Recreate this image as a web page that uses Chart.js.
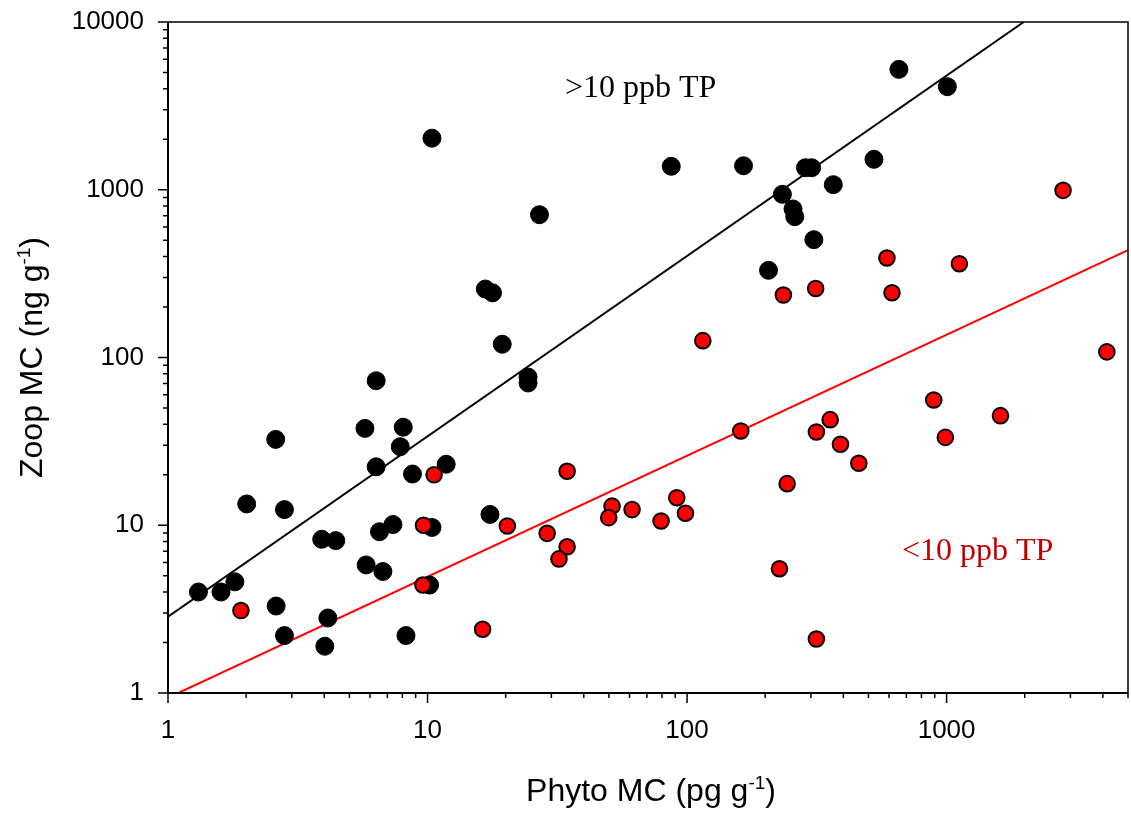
<!DOCTYPE html>
<html>
<head>
<meta charset="utf-8">
<script src="https://cdn.jsdelivr.net/npm/chart.js@4.4.1/dist/chart.umd.min.js"></script>
<style>
  html, body { margin: 0; padding: 0; background: #fff; }
  #wrap { width: 1131px; height: 815px; }
</style>
</head>
<body>
<div id="wrap"><canvas id="myChart"></canvas></div>
<script>
// >10 ppb TP (black dots)
const highPhyto = [1.31, 1.6, 1.81, 2.01, 2.6, 2.81, 2.61, 2.81, 4.02, 4.13, 3.91, 4.43,
  5.74, 6.34, 6.34, 5.8, 6.53, 6.73, 7.36, 8.06, 7.85, 8.75, 8.26, 10.18, 10.4, 10.4,
  11.8, 17.4, 16.7, 17.8, 19.4, 24.4, 24.4, 27.0, 86.9, 165, 206, 233, 256, 260, 286,
  302, 308, 366, 525, 655, 1007];
const highZoop = [4.0, 4.0, 4.6, 13.4, 32.5, 12.4, 3.3, 2.2, 1.9, 2.8, 8.25, 8.1,
  37.8, 72.7, 22.3, 5.8, 9.15, 5.3, 10.1, 38.4, 29.4, 20.2, 2.2, 4.4, 9.7, 2030,
  23.1, 11.6, 256, 243, 120, 76.5, 70.5, 710, 1380, 1390, 331, 939, 768, 691, 1353,
  1353, 504, 1072, 1519, 5220, 4115];

// <10 ppb TP (red dots)
const lowPhyto = [1.91, 9.65, 9.6, 10.6, 16.3, 20.3, 28.9, 34.5, 34.5, 32.1, 51.4, 49.9,
  61.4, 79.4, 91.3, 98.6, 115, 161, 227, 235, 243, 313, 315, 315, 356, 390, 459, 589,
  616, 892, 989, 1120, 1613, 2810, 4144];
const lowZoop = [3.1, 10.0, 4.4, 20.0, 2.4, 9.9, 8.95, 21.0, 7.45, 6.3, 13.0, 11.1,
  12.4, 10.6, 14.6, 11.8, 126, 36.5, 5.5, 236, 17.7, 258, 36, 2.1, 42.6, 30.4, 23.4, 392,
  243, 55.8, 33.4, 362, 45, 992, 108];

// fitted lines, end points
const highFitX = [1, 1983];
const highFitY = [2.85, 10000];
const lowFitX = [1.096, 5000];
const lowFitY = [1, 437];

// tick positions and labelled ticks
const xTickValues = [1, 2, 3, 4, 5, 6, 7, 8, 9, 10, 20, 30, 40, 50, 60, 70, 80, 90,
  100, 200, 300, 400, 500, 600, 700, 800, 900, 1000, 2000, 3000, 4000, 5000];
const yTickValues = [1, 2, 3, 4, 5, 6, 7, 8, 9, 10, 20, 30, 40, 50, 60, 70, 80, 90,
  100, 200, 300, 400, 500, 600, 700, 800, 900, 1000, 2000, 3000, 4000, 5000, 6000,
  7000, 8000, 9000, 10000];
const xLabelValues = [1, 10, 100, 1000];
const yLabelValues = [1, 10, 100, 1000, 10000];

const SANS = "'Liberation Sans', Arial, sans-serif";
const SERIF = "'Liberation Serif', 'Times New Roman', serif";

function toPoints(xs, ys) {
  return xs.map((x, i) => ({ x: x, y: ys[i] }));
}

function drawTitle(ctx, cx, baseY, main, sup, tail) {
  const big = "32px " + SANS;
  const small = "19px " + SANS;
  ctx.font = big;
  const w1 = ctx.measureText(main).width;
  const w3 = ctx.measureText(tail).width;
  ctx.font = small;
  const w2 = ctx.measureText(sup).width;
  let x = cx - (w1 + w2 + w3) / 2;
  ctx.textAlign = "left";
  ctx.textBaseline = "alphabetic";
  ctx.font = big;
  ctx.fillText(main, x, baseY);
  x += w1;
  ctx.font = small;
  ctx.fillText(sup, x, baseY - 12);
  x += w2;
  ctx.font = big;
  ctx.fillText(tail, x, baseY);
}

// frame, tick marks, axis titles and the two notes
const decorations = {
  id: "decorations",
  afterDraw(chart) {
    const ctx = chart.ctx;
    const a = chart.chartArea;
    const xs = chart.scales.x;
    const ys = chart.scales.y;
    ctx.save();
    ctx.strokeStyle = "#000";
    ctx.fillStyle = "#000";

    ctx.lineWidth = 1.5;
    ctx.strokeRect(a.left, a.top, a.right - a.left, a.bottom - a.top);
    ctx.lineWidth = 2;
    ctx.beginPath();
    ctx.moveTo(a.left, a.top);
    ctx.lineTo(a.left, a.bottom);
    ctx.lineTo(a.right, a.bottom);
    ctx.stroke();

    ctx.lineWidth = 1.5;
    ctx.beginPath();
    xs.ticks.forEach((t) => {
      const px = xs.getPixelForValue(t.value);
      const len = xLabelValues.includes(t.value) ? 10 : 5;
      ctx.moveTo(px, a.bottom);
      ctx.lineTo(px, a.bottom + len);
    });
    ys.ticks.forEach((t) => {
      const py = ys.getPixelForValue(t.value);
      const len = yLabelValues.includes(t.value) ? 10 : 5;
      ctx.moveTo(a.left, py);
      ctx.lineTo(a.left - len, py);
    });
    ctx.stroke();

    drawTitle(ctx, (a.left + a.right) / 2 + 3, 801, "Phyto MC (pg g", "-1", ")");
    ctx.save();
    ctx.translate(42, (a.top + a.bottom) / 2);
    ctx.rotate(-Math.PI / 2);
    drawTitle(ctx, 0, 0, "Zoop MC (ng g", "-1", ")");
    ctx.restore();

    ctx.font = "32px " + SERIF;
    ctx.textAlign = "left";
    ctx.textBaseline = "alphabetic";
    ctx.fillStyle = "#000";
    ctx.fillText(">10 ppb TP", 565, 97);
    ctx.fillStyle = "#c00000";
    ctx.fillText("<10 ppb TP", 902, 560);
    ctx.restore();
  },
};

const ctx = document.getElementById("myChart").getContext("2d");
new Chart(ctx, {
  type: "scatter",
  data: {
    datasets: [
      {
        label: "<10 ppb TP",
        data: toPoints(lowPhyto, lowZoop),
        backgroundColor: "#ff0000",
        borderColor: "#000",
        borderWidth: 2,
        pointRadius: 7.8,
        order: 0,
      },
      {
        label: ">10 ppb TP",
        data: toPoints(highPhyto, highZoop),
        backgroundColor: "#000",
        borderColor: "#000",
        borderWidth: 1,
        pointRadius: 9,
        order: 1,
      },
      {
        label: "fit <10",
        data: toPoints(lowFitX, lowFitY),
        showLine: true,
        borderColor: "#ff0000",
        borderWidth: 2,
        pointRadius: 0,
        order: 2,
      },
      {
        label: "fit >10",
        data: toPoints(highFitX, highFitY),
        showLine: true,
        borderColor: "#000",
        borderWidth: 2,
        pointRadius: 0,
        order: 3,
      },
    ],
  },
  options: {
    responsive: true,
    maintainAspectRatio: false,
    animation: false,
    events: [],
    layout: { autoPadding: false, padding: { top: 22, right: 3, left: 0, bottom: 0 } },
    plugins: {
      legend: { display: false },
      tooltip: { enabled: false },
    },
    scales: {
      x: {
        type: "logarithmic",
        position: "bottom",
        min: 1,
        max: 5000,
        afterBuildTicks: (scale) => {
          scale.ticks = xTickValues.map((v) => ({ value: v }));
        },
        afterFit: (scale) => {
          scale.height = 122;
          scale.paddingLeft = 0;
          scale.paddingRight = 0;
        },
        grid: { display: false, drawTicks: false },
        border: { display: false },
        ticks: {
          autoSkip: false,
          maxRotation: 0,
          padding: 22,
          color: "#000",
          font: { family: SANS, size: 26 },
          callback: (v) => (xLabelValues.includes(v) ? String(v) : ""),
        },
      },
      y: {
        type: "logarithmic",
        min: 1,
        max: 10000,
        afterBuildTicks: (scale) => {
          scale.ticks = yTickValues.map((v) => ({ value: v }));
        },
        afterFit: (scale) => {
          scale.width = 168;
          scale.paddingTop = 0;
          scale.paddingBottom = 0;
        },
        grid: { display: false, drawTicks: false },
        border: { display: false },
        ticks: {
          autoSkip: false,
          padding: 24,
          color: "#000",
          font: { family: SANS, size: 26 },
          callback: (v) => (yLabelValues.includes(v) ? String(v) : ""),
        },
      },
    },
  },
  plugins: [decorations],
});
</script>
</body>
</html>
